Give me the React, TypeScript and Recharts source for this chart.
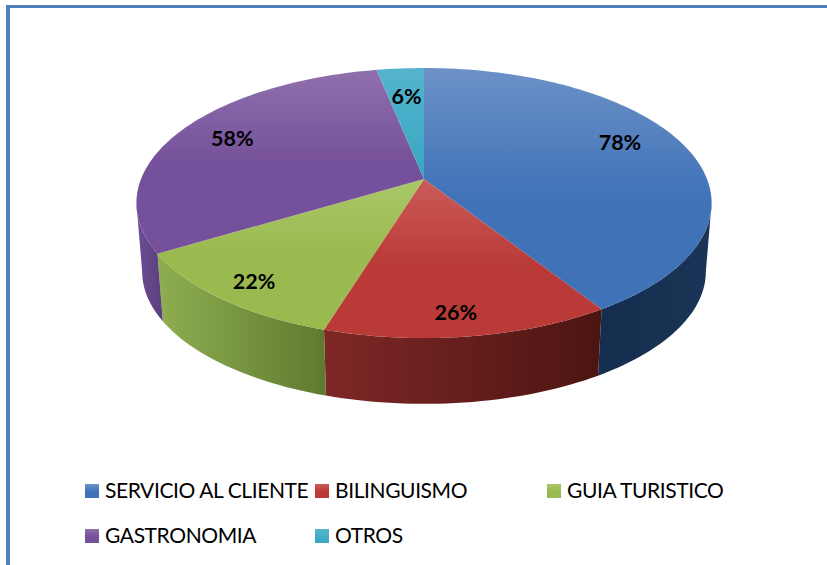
import React from "react";
import { PieChart, Pie, Legend } from "recharts";

const categories = ["SERVICIO AL CLIENTE", "BILINGUISMO", "GUIA TURISTICO", "GASTRONOMIA", "OTROS"];
const values = [78, 26, 22, 58, 6];

const topLight = ["#6c91c7", "#cb5c58", "#aac769", "#8f70ac", "#55b4cd"];
const topBase = ["#3f72b7", "#b93a36", "#9aba4f", "#76519b", "#3aa8c4"];
const wallLeft = ["#152d4e", "#7e2826", "#8fae50", "#6b4d94", "#2a7f95"];
const wallRight = ["#1a3557", "#4c1512", "#5f7a30", "#5a3f7e", "#2a7f95"];
const topStops = ["55%", "55%", "50%", "50%", "90%"];

const legendCols = [85, 315, 547];
const legendRows = [484, 529];
const labelNudges = [[12, -12], [2, 29], [-35, 22], [-19, -6], [0, -2]];

const TILT = 0.178;
const SQUASH = 0.462;
const DEPTH = 69;
const BOTTOM_SCALE = 0.98;
const VIS_START = 100.3;
const VIS_END = 259.7;
const FONT = "Lato, Carlito, Calibri, sans-serif";

const rows = categories.map((name, i) => ({
  name,
  value: values[i],
  fill: `url(#top${i})`,
  wall: `url(#wall${i})`,
}));

// Project a point of the pie disc (clockwise angle from 12 o'clock, unit radius fraction) to the screen.
function project(cx: number, cy: number, R: number, theta: number, r = 1) {
  const rad = (theta * Math.PI) / 180;
  const u = Math.sin(rad) * r;
  const v = -Math.cos(rad) * r;
  const d = 1 - TILT * v;
  return { x: cx + (R * u) / d, y: cy + (R * SQUASH * v) / d };
}

function arcPoints(cx: number, cy: number, R: number, from: number, to: number) {
  const pts: { x: number; y: number }[] = [];
  const n = Math.max(2, Math.ceil((to - from) / 1.5));
  for (let i = 0; i <= n; i++) pts.push(project(cx, cy, R, from + ((to - from) * i) / n));
  return pts;
}

const toPath = (pts: { x: number; y: number }[]) =>
  pts.map((p, i) => `${i ? "L" : "M"}${p.x.toFixed(2)},${p.y.toFixed(2)}`).join(" ");

function Slice3D(props: any) {
  const { cx, cy, outerRadius, startAngle, endAngle, fill, wall } = props;
  const from = 90 - startAngle;
  const to = 90 - endAngle;
  const rim = arcPoints(cx, cy, outerRadius, from, to);
  const top = `M${cx},${cy} ${toPath(rim).replace("M", "L")} Z`;
  const a = Math.max(from, VIS_START);
  const b = Math.min(to, VIS_END);
  let side = null;
  if (b > a) {
    const upper = arcPoints(cx, cy, outerRadius, a, b);
    const lower = arcPoints(cx, cy, outerRadius * BOTTOM_SCALE, a, b)
      .map((p) => ({ x: p.x, y: p.y + DEPTH }))
      .reverse();
    side = <path d={`${toPath(upper.concat(lower))} Z`} fill={wall} />;
  }
  return (
    <g>
      {side}
      <path d={top} fill={fill} />
    </g>
  );
}

function renderLabel(props: any) {
  const { cx, cy, outerRadius, midAngle, value, index } = props;
  const p = project(cx, cy, outerRadius, 90 - midAngle, 0.7);
  const [dx, dy] = labelNudges[index];
  return (
    <text
      x={p.x + dx}
      y={p.y + dy}
      textAnchor="middle"
      dominantBaseline="central"
      fontFamily={FONT}
      fontWeight={700}
      fontSize={21.5}
      fill="#000"
    >
      {`${value}%`}
    </text>
  );
}

function LegendGrid({ payload }: any) {
  return (
    <div style={{ position: "relative", width: 827, height: 565 }}>
      {(payload || []).map((entry: any, i: number) => {
        const left = legendCols[i % 3];
        const top = legendRows[Math.floor(i / 3)];
        return (
          <div key={entry.value}>
            <svg width={14} height={14} style={{ position: "absolute", left, top }}>
              <rect width={14} height={14} fill={`url(#top${i})`} />
            </svg>
            <span
              style={{
                position: "absolute",
                left: left + 20,
                top: top - 7,
                lineHeight: "26px",
                fontFamily: FONT,
                fontSize: 21,
                letterSpacing: -0.4,
                color: "#000",
                whiteSpace: "nowrap",
              }}
            >
              {entry.value}
            </span>
          </div>
        );
      })}
    </div>
  );
}

export default function App() {
  return (
    <div style={{ position: "absolute", left: 0, top: 0, width: 827, height: 565, background: "#fff", overflow: "hidden" }}>
      <div style={{ position: "absolute", left: 6, top: 5, width: 4, height: 560, background: "#4f81bd" }} />
      <div style={{ position: "absolute", left: 6, top: 5, width: 821, height: 3, background: "#4f81bd" }} />
      <PieChart width={827} height={565} margin={{ top: 0, right: 0, bottom: 0, left: 0 }}>
        <defs>
          {categories.map((_, i) => (
            <linearGradient key={`t${i}`} id={`top${i}`} x1="0" y1="0" x2="0" y2="1">
              <stop offset="0%" stopColor={topLight[i]} />
              <stop offset={topStops[i]} stopColor={topBase[i]} />
            </linearGradient>
          ))}
          {categories.map((_, i) => (
            <linearGradient key={`w${i}`} id={`wall${i}`} x1="0" y1="0" x2="1" y2="0">
              <stop offset="0%" stopColor={wallLeft[i]} />
              <stop offset="100%" stopColor={wallRight[i]} />
            </linearGradient>
          ))}
        </defs>
        <Pie
          data={rows}
          dataKey="value"
          nameKey="name"
          cx={424}
          cy={179}
          innerRadius={0}
          outerRadius={283}
          startAngle={90}
          endAngle={-270}
          stroke="none"
          isAnimationActive={false}
          labelLine={false}
          label={renderLabel}
          shape={Slice3D}
        />
        <Legend
          verticalAlign="bottom"
          itemSorter={null}
          wrapperStyle={{ position: "absolute", left: 0, top: 0, bottom: "auto", width: 827, height: 565, pointerEvents: "none" }}
          content={(p: any) => <LegendGrid payload={p.payload} />}
        />
      </PieChart>
    </div>
  );
}
